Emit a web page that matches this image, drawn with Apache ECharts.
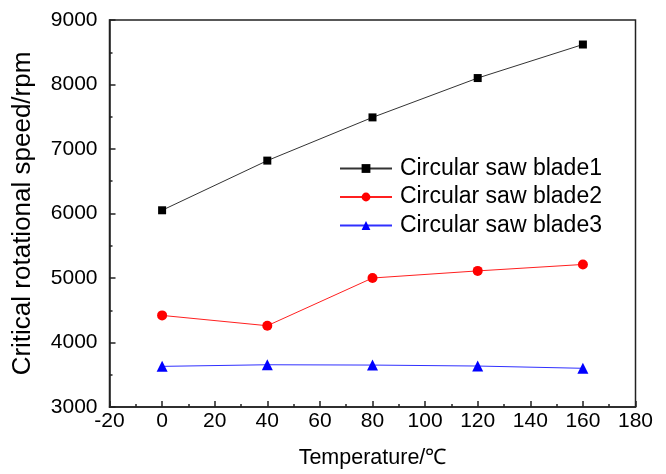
<!DOCTYPE html>
<html>
<head>
<meta charset="utf-8">
<script src="https://cdn.jsdelivr.net/npm/echarts@6/dist/echarts.min.js"></script>
<style>
html,body{margin:0;padding:0;background:#fff;}
#chart{width:666px;height:474px;}
</style>
</head>
<body>
<div id="chart"></div>
<script>
// Temperature (℃) sampled for each blade
const temperatures = [0, 40, 80, 120, 160];
// Critical rotational speed (rpm)
const blade1 = [6050, 6820, 7490, 8100, 8620];
const blade2 = [4420, 4260, 5000, 5110, 5210];
const blade3 = [3630, 3655, 3650, 3635, 3600];
const seriesNames = ['Circular saw blade1', 'Circular saw blade2', 'Circular saw blade3'];

const font = 'Liberation Sans, Arial, sans-serif';
const chart = echarts.init(document.getElementById('chart'));

function pairs(vals) { return temperatures.map((t, i) => [t, vals[i]]); }

const axisCommon = {
  axisLine: { show: true, onZero: false, lineStyle: { color: '#222', width: 1.5 } },
  axisTick: { show: true, inside: true, length: 6, lineStyle: { color: '#222', width: 1.5 } },
  minorTick: { show: true, splitNumber: 2, length: 3, lineStyle: { color: '#222', width: 1.5 } },
  splitLine: { show: false },
  axisLabel: { color: '#000', fontFamily: font, fontSize: 21, formatter: v => String(v) },
  nameTextStyle: { color: '#000', fontFamily: font, fontSize: 21 }
};

chart.setOption({
  animation: false,
  backgroundColor: '#fff',
  grid: { left: 109.5, right: 30.5, top: 20, bottom: 63, show: true, borderColor: '#222', borderWidth: 1.5, backgroundColor: 'transparent' },
  xAxis: Object.assign({}, axisCommon, {
    type: 'value', min: -20, max: 180, interval: 20,
    name: 'Temperature/℃', nameLocation: 'middle', nameGap: 40,
    nameTextStyle: { color: '#000', fontFamily: font, fontSize: 21.5 },
    axisLabel: Object.assign({}, axisCommon.axisLabel, { margin: 4 })
  }),
  yAxis: Object.assign({}, axisCommon, {
    type: 'value', min: 3000, max: 9000, interval: 1000,
    name: 'Critical rotational speed/rpm', nameLocation: 'middle', nameGap: 74,
    nameTextStyle: { color: '#000', fontFamily: font, fontSize: 26 },
    axisLabel: Object.assign({}, axisCommon.axisLabel, { margin: 12 })
  }),
  legend: {
    orient: 'vertical', left: 334, top: 152,
    itemWidth: 52, itemHeight: 11, itemGap: 5.5,
    textStyle: { color: '#000', fontFamily: font, fontSize: 23, lineHeight: 23, padding: [0, 0, 0, 3] },
    data: seriesNames
  },
  series: [
    { name: seriesNames[0], type: 'line', data: pairs(blade1), symbol: 'rect', symbolSize: 8,
      itemStyle: { color: '#000' }, lineStyle: { color: '#333', width: 1 } },
    { name: seriesNames[1], type: 'line', data: pairs(blade2), symbol: 'circle', symbolSize: 10,
      itemStyle: { color: '#ff0000' }, lineStyle: { color: '#ff2020', width: 1 } },
    { name: seriesNames[2], type: 'line', data: pairs(blade3), symbol: 'triangle', symbolSize: 11,
      itemStyle: { color: '#0000ff' }, lineStyle: { color: '#3030ff', width: 1 } }
  ]
});
</script>
</body>
</html>
